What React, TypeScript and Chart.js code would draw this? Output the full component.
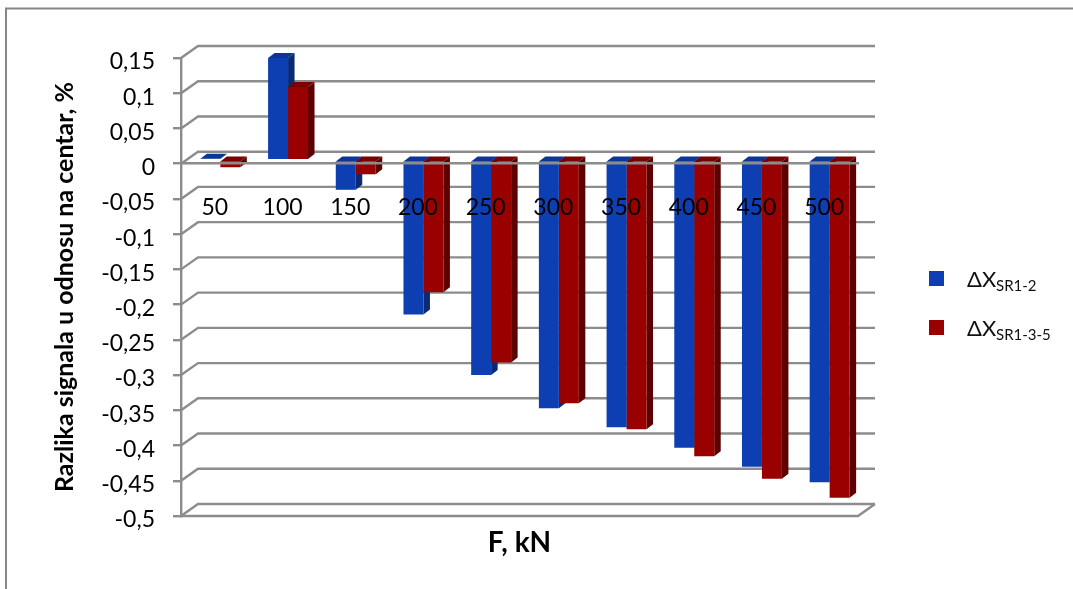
import React, { useEffect, useRef } from "react";
import { Chart, registerables } from "chart.js";

Chart.register(...registerables);

const categories = ["50", "100", "150", "200", "250", "300", "350", "400", "450", "500"];
const seriesA = [0.002, 0.145, -0.042, -0.219, -0.305, -0.352, -0.379, -0.408, -0.435, -0.457];
const seriesB = [-0.01, 0.104, -0.02, -0.1875, -0.287, -0.345, -0.382, -0.42, -0.452, -0.479];
const seriesPrefix = "\u0394X";
const seriesSubs = ["SR1-2", "SR1-3-5"];
const yTickLabels = ["-0,5", "-0,45", "-0,4", "-0,35", "-0,3", "-0,25", "-0,2", "-0,15", "-0,1", "-0,05", "0", "0,05", "0,1", "0,15"];
const yTitle = "Razlika signala u odnosu na centar, %";
const xTitle = "F, kN";

const FRONT = ["#0D3FB2", "#990000"];
const SIDE = ["#0A2A78", "#5E0000"];
const TOP = ["#0C3596", "#7A0000"];
const GRID = "#8C8C8C";
const FONT = "Lato, Carlito, sans-serif";

const WALL = { dx: 17, dy: -12 };
const PLANE = { dx: 5.5, dy: -3.5 };
const DEPTH = { dx: 6.5, dy: -5 };
const GRID_WIDTH = 2.4;

function poly(ctx: CanvasRenderingContext2D, pts: number[][], fill: string) {
  ctx.fillStyle = fill;
  ctx.beginPath();
  pts.forEach((p, i) => (i ? ctx.lineTo(p[0], p[1]) : ctx.moveTo(p[0], p[1])));
  ctx.closePath();
  ctx.fill();
}

const plot3d = {
  id: "plot3d",
  beforeDatasetsDraw(chart: any) {
    const { ctx, chartArea: a, scales } = chart;
    ctx.save();
    ctx.strokeStyle = GRID;
    ctx.lineWidth = GRID_WIDTH;
    scales.y.ticks.forEach((t: any) => {
      const y = scales.y.getPixelForValue(t.value);
      ctx.beginPath();
      ctx.moveTo(a.left, y);
      ctx.lineTo(a.left + WALL.dx, y + WALL.dy);
      ctx.lineTo(a.right + WALL.dx, y + WALL.dy);
      ctx.stroke();
    });
    ctx.beginPath();
    ctx.moveTo(a.left, a.bottom);
    ctx.lineTo(a.right, a.bottom);
    ctx.lineTo(a.right + WALL.dx, a.bottom + WALL.dy);
    ctx.stroke();
    ctx.restore();

    ctx.save();
    ctx.translate(PLANE.dx, PLANE.dy);
    const count = chart.data.labels.length;
    for (let i = 0; i < count; i++) {
      chart.data.datasets.forEach((_: any, d: number) => {
        const bar = chart.getDatasetMeta(d).data[i];
        const { x, y, base, width } = bar.getProps(["x", "y", "base", "width"], true);
        const l = x - width / 2;
        const r = x + width / 2;
        const hi = Math.min(y, base);
        const lo = Math.max(y, base);
        poly(ctx, [[r, hi], [r + DEPTH.dx, hi + DEPTH.dy], [r + DEPTH.dx, lo + DEPTH.dy], [r, lo]], SIDE[d]);
        poly(ctx, [[l, hi], [l + DEPTH.dx, hi + DEPTH.dy], [r + DEPTH.dx, hi + DEPTH.dy], [r, hi]], TOP[d]);
      });
    }
  },
  afterDatasetsDraw(chart: any) {
    chart.ctx.restore();
  },
  afterDraw(chart: any) {
    const { ctx } = chart;
    ctx.save();
    ctx.strokeStyle = "#868686";
    ctx.lineWidth = 2;
    ctx.beginPath();
    ctx.moveTo(6, 589);
    ctx.lineTo(6, 8.5);
    ctx.lineTo(1073, 8.5);
    ctx.stroke();

    ctx.textAlign = "left";
    ctx.textBaseline = "alphabetic";
    seriesSubs.forEach((sub, i) => {
      const top = 271 + i * 49;
      ctx.fillStyle = FRONT[i];
      ctx.fillRect(929, top, 15, 15);
      ctx.fillStyle = "#111";
      ctx.font = `22px ${FONT}`;
      ctx.fillText(seriesPrefix, 967, top + 16);
      ctx.font = `15px ${FONT}`;
      ctx.fillText(sub, 996, top + 20);
    });
    ctx.restore();
  },
};

export default function App() {
  const ref = useRef<HTMLCanvasElement>(null);
  useEffect(() => {
    const chart = new Chart(ref.current as HTMLCanvasElement, {
      type: "bar",
      data: {
        labels: categories,
        datasets: [
          { label: seriesPrefix + seriesSubs[0], data: seriesA, backgroundColor: FRONT[0], clip: false as any },
          { label: seriesPrefix + seriesSubs[1], data: seriesB, backgroundColor: FRONT[1], clip: false as any },
        ],
      },
      options: {
        animation: false,
        responsive: false,
        layout: { padding: { left: 40, right: 215, top: 58, bottom: 73 } },
        datasets: { bar: { barPercentage: 1, categoryPercentage: 0.59 } },
        plugins: { legend: { display: false }, tooltip: { enabled: false } },
        scales: {
          x: {
            position: { y: 0 } as any,
            afterFit(scale: any) {
              scale.height = 396;
            },
            grid: { drawOnChartArea: false, drawTicks: false },
            border: { display: true, color: GRID, width: GRID_WIDTH, z: 1 },
            ticks: { color: "#000", font: { family: FONT, size: 23 }, padding: 30, z: 1, maxRotation: 0, autoSkip: false },
            title: {
              display: true,
              text: xTitle,
              color: "#000",
              font: { family: FONT, size: 28, weight: "bold" },
              padding: 0,
            },
          },
          y: {
            min: -0.5,
            max: 0.15,
            afterFit(scale: any) {
              scale.width = 141;
            },
            grid: { drawOnChartArea: false, drawTicks: true, tickLength: 8, color: GRID, lineWidth: GRID_WIDTH },
            border: { display: true, color: GRID, width: GRID_WIDTH },
            ticks: {
              stepSize: 0.05,
              padding: 18,
              labelOffset: 4,
              color: "#000",
              font: { family: FONT, size: 23 },
              callback: (_v: any, i: number) => yTickLabels[i],
            },
            title: {
              display: true,
              text: yTitle,
              color: "#000",
              font: { family: FONT, size: 25, weight: "bold" },
              padding: { top: 10, bottom: 0 },
            },
          },
        },
      },
      plugins: [plot3d],
    } as any);
    return () => chart.destroy();
  }, []);
  return (
    <canvas
      ref={ref}
      width={1073}
      height={589}
      style={{ position: "absolute", left: 0, top: 0, width: 1073, height: 589, display: "block", background: "#fff" }}
    />
  );
}
